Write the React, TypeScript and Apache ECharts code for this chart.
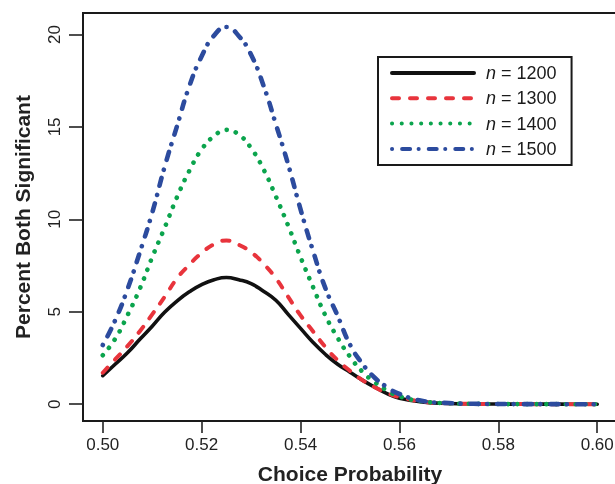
import React, { useEffect, useRef } from 'react';
import * as echarts from 'echarts';

const xValues = [0.500, 0.5025, 0.505, 0.5075, 0.510, 0.5125, 0.515, 0.5175, 0.520, 0.5225, 0.525,
  0.5275, 0.530, 0.5325, 0.535, 0.5375, 0.540, 0.5425, 0.545, 0.5475, 0.550, 0.5525, 0.555, 0.5575,
  0.560, 0.565, 0.570, 0.575, 0.580, 0.585, 0.590, 0.595, 0.600];
const n1200 = [1.54, 2.16, 2.78, 3.51, 4.22, 4.97, 5.58, 6.08, 6.47, 6.73, 6.85, 6.73, 6.52, 6.11, 5.62, 4.86, 4.10,
  3.35, 2.70, 2.16, 1.73, 1.30, 0.92, 0.57, 0.32, 0.11, 0.04, 0.015, 0.006, 0.002, 0.001, 0, 0];
const n1300 = [1.70, 2.42, 3.14, 3.95, 4.86, 5.80, 6.80, 7.54, 8.18, 8.65, 8.85, 8.62, 8.22, 7.60, 6.81, 5.80, 4.80,
  3.95, 3.10, 2.38, 1.80, 1.30, 0.92, 0.60, 0.38, 0.13, 0.05, 0.02, 0.007, 0.003, 0.001, 0, 0];
const n1400 = [2.65, 3.53, 4.81, 6.25, 7.95, 9.54, 11.19, 12.62, 13.78, 14.50, 14.84, 14.58, 13.85, 12.71, 11.24, 9.65, 7.95,
  6.35, 4.81, 3.59, 2.57, 1.76, 1.19, 0.74, 0.42, 0.14, 0.05, 0.02, 0.008, 0.003, 0.001, 0, 0];
const n1500 = [3.20, 4.53, 6.22, 8.22, 10.36, 12.83, 15.03, 17.20, 18.82, 19.94, 20.40, 19.92, 18.90, 17.24, 15.15, 12.96, 10.54,
  8.31, 6.29, 4.78, 3.22, 2.19, 1.43, 0.92, 0.55, 0.16, 0.06, 0.02, 0.008, 0.003, 0.001, 0, 0];
const seriesNames = ['n = 1200', 'n = 1300', 'n = 1400', 'n = 1500'];
const xTicks = [0.50, 0.52, 0.54, 0.56, 0.58, 0.60];
const yTicks = [0, 5, 10, 15, 20];

const FONT = "'Liberation Sans', Arial, Helvetica, sans-serif";

export default function App() {
  const ref = useRef<HTMLDivElement>(null);
  useEffect(() => {
    if (!ref.current) return;
    const chart = echarts.init(ref.current, undefined, { renderer: 'svg' });
    const pairs = (ys: number[]) => xValues.map((x, i) => [x, ys[i]]);
    const styles = [
      { color: '#111111', width: 3.6, type: 'solid' as any },
      { color: '#e8343c', width: 4, type: [7, 11] },
      { color: '#0ba44d', width: 4.6, type: [0.1, 9.6] },
      { color: '#2c4b9e', width: 4.6, type: [0.1, 10, 8, 8.5] },
    ];
    const datasets = [n1200, n1300, n1400, n1500];
    chart.setOption({
      animation: false,
      grid: {
        left: 83, right: -2, top: 13, bottom: 63,
        outerBoundsMode: 'none',
        containLabel: false,
        show: true, borderColor: '#1a1a1a', borderWidth: 2, backgroundColor: 'transparent',
      },
      legend: {
        left: 378, top: 57, orient: 'vertical',
        data: seriesNames,
        itemWidth: 82, itemHeight: 14, itemGap: 7.3,
        padding: [7, 15, 7, 12],
        borderColor: '#1a1a1a', borderWidth: 2,
        itemStyle: { opacity: 0 },
        lineStyle: { width: 4 },
        textStyle: {
          fontFamily: FONT, fontSize: 18, color: '#1a1a1a', lineHeight: 18,
          padding: [0, 0, 0, 7],
          rich: { i: { fontFamily: FONT, fontSize: 18, fontStyle: 'italic', color: '#1a1a1a', lineHeight: 18 } },
        },
        formatter: (name: string) => '{i|n}' + name.slice(1),
      },
      xAxis: {
        type: 'value', min: 0.496, max: 0.604,
        name: 'Choice Probability', nameLocation: 'middle', nameGap: 42,
        nameTextStyle: { fontFamily: FONT, fontSize: 21, fontWeight: 'bold', color: '#222', lineHeight: 21 },
        axisLine: { show: false, onZero: false },
        splitLine: { show: false },
        axisTick: { show: true, inside: false, length: 12, customValues: xTicks, lineStyle: { color: '#222', width: 1.6 } },
        axisLabel: {
          customValues: xTicks, margin: 15, fontFamily: FONT, fontSize: 17, color: '#222',
          formatter: (v: number) => v.toFixed(2),
        },
      },
      yAxis: {
        type: 'value', min: -0.91, max: 21.16,
        name: 'Percent Both Significant', nameLocation: 'middle', nameGap: 50, nameRotate: 90,
        nameTextStyle: { fontFamily: FONT, fontSize: 21, fontWeight: 'bold', color: '#222' },
        axisLine: { show: false, onZero: false },
        splitLine: { show: false },
        axisTick: { show: true, inside: false, length: 14, customValues: yTicks, lineStyle: { color: '#222', width: 1.6 } },
        axisLabel: {
          customValues: yTicks, margin: 20, rotate: 90, fontFamily: FONT, fontSize: 17, color: '#222',
        },
      },
      series: datasets.map((d, i) => ({
        name: seriesNames[i],
        type: 'line',
        data: pairs(d),
        smooth: 0.5,
        symbol: 'none',
        lineStyle: { color: styles[i].color, width: styles[i].width, type: styles[i].type, cap: 'round', join: 'round' },
        itemStyle: { color: styles[i].color },
      })),
    });
    return () => chart.dispose();
  }, []);
  return <div ref={ref} style={{ position: 'fixed', left: 0, top: 0, width: 615, height: 484 }} />;
}
